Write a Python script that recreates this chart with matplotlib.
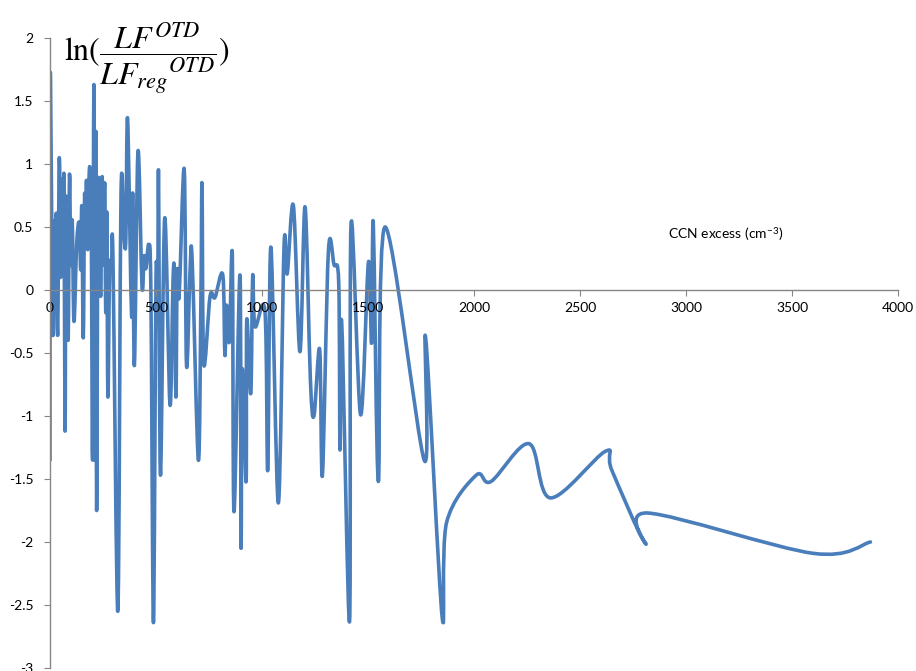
import numpy as np
import matplotlib.pyplot as plt
from matplotlib.path import Path
from matplotlib.patches import PathPatch
from matplotlib.ticker import FuncFormatter, MultipleLocator

plt.rcParams['font.family'] = ['Lato', 'DejaVu Sans']
plt.rcParams['mathtext.fontset'] = 'stix'
plt.rcParams['axes.unicode_minus'] = False

# CCN excess (cm^-3) and ln(LF_OTD / LF_reg_OTD)
ccn = [0, 1, 6, 12, 16, 22, 26, 30, 36, 44, 50, 56, 62, 66, 71, 75, 80, 86, 92, 98,
       105, 113, 126, 138, 145, 150, 157, 163, 168, 172, 178, 184, 189, 195, 201, 207,
       212, 216, 220, 226, 233, 239, 246, 252, 258, 263, 268, 273, 281, 290, 297, 320,
       335, 350, 358, 366, 385, 390, 398, 415, 434, 444, 452, 466, 476, 488, 500, 508,
       512, 521, 541, 566, 580, 587, 594, 600, 609, 633, 644, 661, 671, 700, 712, 717,
       725, 755, 778, 815, 825, 833, 846, 860, 868, 896, 901, 907, 925, 928, 947, 956,
       967, 1014, 1027, 1042, 1077, 1104, 1119, 1148, 1179, 1203, 1228, 1245, 1272, 1285,
       1313, 1340, 1362, 1368, 1376, 1413, 1420, 1465, 1502, 1517, 1525, 1549, 1580, 1765,
       1772, 1850, 1870, 2010, 2080, 2260, 2360, 2620, 2650, 2808, 2820, 3600, 3870]
ln_ratio = [-1.35, 1.62, 0.95, -0.15, -0.30, 0.55, 0.10, 0.61, -0.36, 1.05, 0.10, 0.88, 0.30,
            0.89, -1.12, 0.70, 0.15, -0.38, 0.92, 0.20, 0.55, -0.25, 0.37, 0.53, 0.16, 0.66,
            -0.38, 0.75, 0.35, 0.87, 0.32, 0.88, 0.94, 0.45, -1.35, 1.63, -1.35, 1.26, -1.75,
            0.68, 0.69, -0.05, 0.90, 0.20, 0.85, -0.18, 0.62, -0.85, 0.15, 0.20, 0.25, -2.55,
            0.77, 0.40, 0.42, 1.36, -0.21, 0.77, -0.60, 1.10, 0.03, 0.27, 0.17, 0.36, -0.02,
            -2.64, 0.10, -0.05, 0.92, -1.47, 0.57, -0.91, 0.06, 0.12, -0.85, 0.15, -0.05, 0.96,
            -0.60, 0.17, 0.22, -1.35, -0.04, 0.84, -0.58, -0.05, -0.06, 0.12, -0.52, -0.12,
            -0.41, 0.28, -1.76, 0.12, -2.05, -0.63, -1.52, -0.24, -0.82, 0.11, -0.29, -0.17,
            -1.43, 0.34, -1.69, 0.35, 0.13, 0.67, -0.49, 0.66, -0.70, -1.00, -0.47, -1.47,
            0.30, 0.20, 0.05, -1.27, -0.26, -2.63, 0.52, -0.99, 0.22, -0.42, 0.53, -1.52, 0.50,
            -1.35, -0.38, -2.60, -1.85, -1.47, -1.52, -1.22, -1.65, -1.28, -1.43, -2.01, -1.77,
            -2.09, -2.00]

LINE_COLOR = '#4A7EBB'
AXIS_COLOR = '#868686'


def smooth_path(xs, ys):
    # Excel-like smoothed line: cubic Bezier segments through the data points
    pts = np.column_stack([xs, ys]).astype(float)
    n = len(pts)
    verts = [pts[0]]
    codes = [Path.MOVETO]
    for i in range(n - 1):
        p0 = pts[i - 1] if i > 0 else pts[i]
        p1 = pts[i]
        p2 = pts[i + 1]
        p3 = pts[i + 2] if i + 2 < n else pts[i + 1]
        verts += [p1 + (p2 - p0) / 6, p2 - (p3 - p1) / 6, p2]
        codes += [Path.CURVE4] * 3
    return Path(verts, codes)


fig = plt.figure(figsize=(9.16, 6.71), dpi=100)
ax = fig.add_axes([50 / 916, 3 / 671, 848 / 916, 630 / 671])

ax.add_patch(PathPatch(smooth_path(ccn, ln_ratio), facecolor='none', edgecolor=LINE_COLOR,
                       lw=2.6, capstyle='round', joinstyle='round'))

ax.set_xlim(0, 4000)
ax.set_ylim(-3, 2)
ax.xaxis.set_major_locator(MultipleLocator(500))
ax.yaxis.set_major_locator(MultipleLocator(0.5))
ax.xaxis.set_major_formatter(FuncFormatter(lambda v, _: f'{v:.0f}'))
ax.yaxis.set_major_formatter(FuncFormatter(lambda v, _: f'{v:g}'))

ax.spines[['top', 'right']].set_visible(False)
ax.spines['bottom'].set_position(('data', 0))
for s in ['left', 'bottom']:
    ax.spines[s].set_color(AXIS_COLOR)
    ax.spines[s].set_linewidth(1.0)
ax.tick_params(axis='both', direction='out', length=4, color=AXIS_COLOR, labelsize=10,
               labelcolor='black')
ax.tick_params(axis='x', pad=5)
ax.tick_params(axis='y', pad=8)

fig.text(668 / 916, 1 - 234 / 671, r'CCN excess (cm$^{\mathregular{-3}}$)', fontsize=10,
         va='center', ha='left')
fig.text(64 / 916, 1 - 58 / 671, r'$\ln(\dfrac{LF^{OTD}}{LF_{reg}{}^{OTD}})$', fontsize=23,
         va='center', ha='left')

fig.savefig('out.png', dpi=100)
